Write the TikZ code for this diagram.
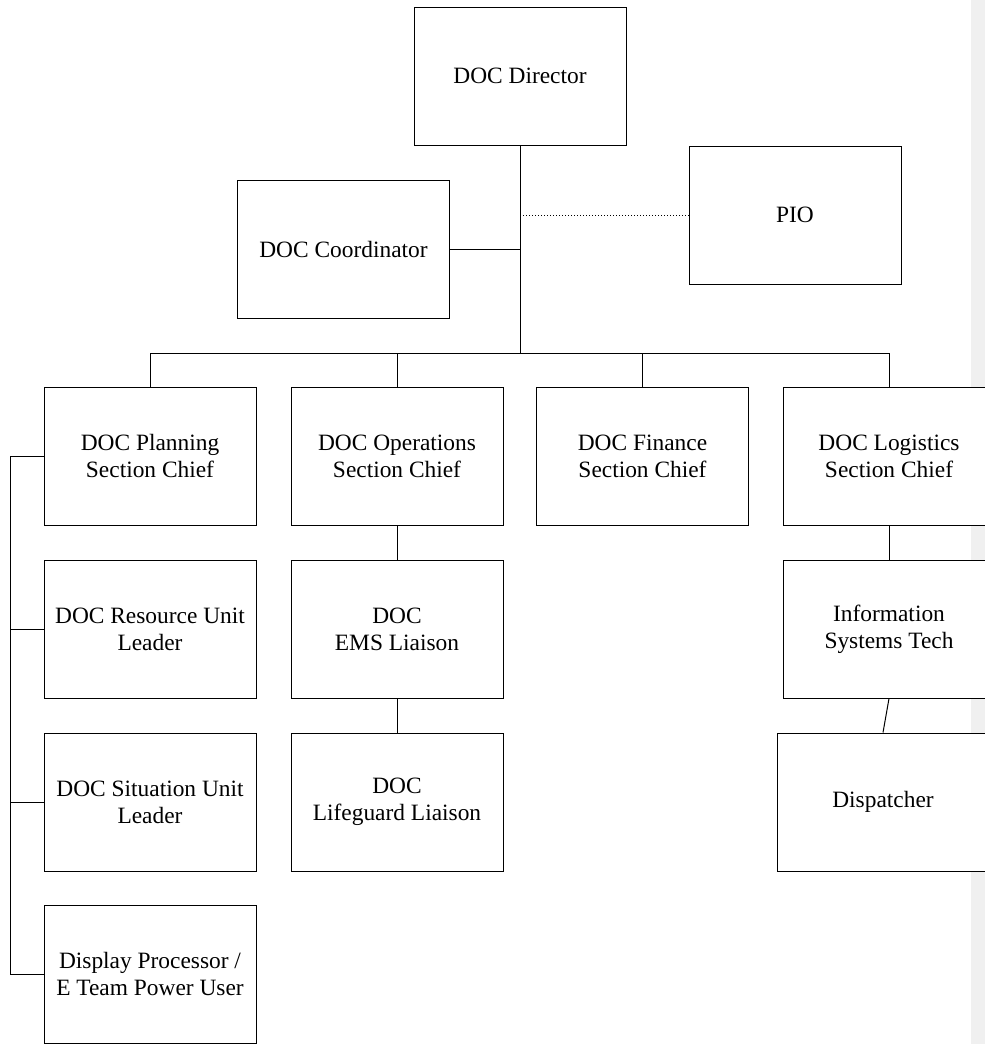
\documentclass[tikz,border=0pt]{standalone}
\usepackage{fontspec}
\setmainfont{Liberation Serif}
\definecolor{bandgray}{HTML}{F0F0F0}
\begin{document}
\begin{tikzpicture}[x=0.5pt,y=-0.5pt,
  orgbox/.style={draw=black, fill=white, line width=0.5pt, rectangle,
    minimum width=106pt, minimum height=69pt, align=center, inner sep=2pt,
    font=\fontsize{11.7}{13.6}\selectfont},
  link/.style={draw=black, line width=0.5pt},
  dotlink/.style={draw=black, line width=0.5pt, densely dotted}]
\clip (0,0) rectangle (985,1044);
\fill[bandgray] (971,0) rectangle (985,1044);

\node[orgbox] (dir)   at (520,76)    {DOC Director};
\node[orgbox] (coord) at (343.5,249) {DOC Coordinator};
\node[orgbox] (pio)   at (795,215)   {PIO};

\node[orgbox] (plan) at (150,456)   {DOC Planning\\Section Chief};
\node[orgbox] (ops)  at (397,456)   {DOC Operations\\Section Chief};
\node[orgbox] (fin)  at (642.5,456) {DOC Finance\\Section Chief};
\node[orgbox] (log)  at (889,456)   {DOC Logistics\\Section Chief};

\node[orgbox] (res)  at (150,629) {DOC Resource Unit\\Leader};
\node[orgbox] (sit)  at (150,802) {DOC Situation Unit\\Leader};
\node[orgbox] (dpu)  at (150,974) {Display Processor /\\E Team Power User};

\node[orgbox] (ems)  at (397,629) {DOC\\EMS Liaison};
\node[orgbox] (life) at (397,802) {DOC\\Lifeguard Liaison};

\node[orgbox] (info) at (889,629)   {Information\\Systems Tech};
\node[orgbox] (dsp)  at (883,802)   {Dispatcher};

\coordinate (bus) at (520,353);
\coordinate (lx) at (10,456);

\draw[link] (dir.south) -- (bus);
\draw[link] (coord.east) -- (coord.east -| dir.south);
\draw[dotlink] (pio.west -| dir.south) -- (pio.west);

\draw[link] (plan.north |- bus) -- (log.north |- bus);
\draw[link] (plan.north |- bus) -- (plan.north);
\draw[link] (ops.north |- bus) -- (ops.north);
\draw[link] (fin.north |- bus) -- (fin.north);
\draw[link] (log.north |- bus) -- (log.north);

\draw[link] (plan.west) -- (plan.west -| lx) -- (dpu.west -| lx) -- (dpu.west);
\draw[link] (res.west) -- (res.west -| lx);
\draw[link] (sit.west) -- (sit.west -| lx);

\draw[link] (ops.south) -- (ems.north);
\draw[link] (ems.south) -- (life.north);
\draw[link] (log.south) -- (info.north);
\draw[link] (info.south) -- (dsp.north);
\end{tikzpicture}
\end{document}
